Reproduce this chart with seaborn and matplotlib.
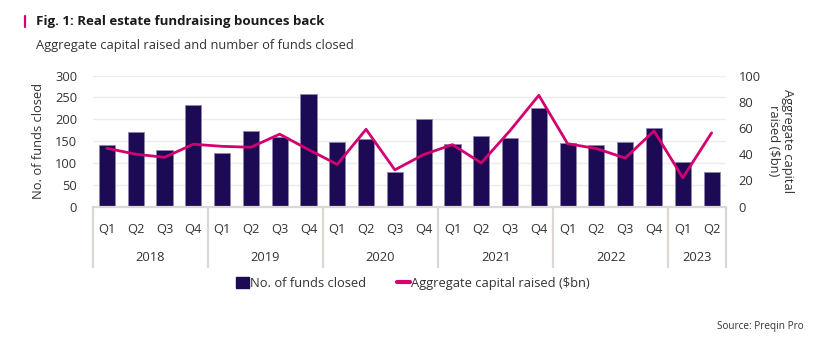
import numpy as np
import pandas as pd
import matplotlib
matplotlib.use("Agg")
import matplotlib.pyplot as plt
import seaborn as sns
from matplotlib.patches import Patch
from matplotlib.lines import Line2D
from matplotlib.transforms import blended_transform_factory

# ---- data ----
years = ["2018", "2019", "2020", "2021", "2022", "2023"]
quarters_per_year = [4, 4, 4, 4, 4, 2]
quarter_labels = ["Q1", "Q2", "Q3", "Q4"] * 5 + ["Q1", "Q2"]
funds_closed = [142, 171, 129, 233, 122, 173, 160, 259, 148, 154, 79, 200,
                143, 161, 158, 227, 146, 142, 148, 179, 103, 80]
capital_raised = [44.5, 40, 37.6, 47.6, 46, 45.3, 55.3, 43.5, 32.2, 59, 28, 39.7,
                  47.3, 33.3, 58, 85, 48, 44.3, 37, 57.8, 22, 56.3]

period = [f"{y} {q}" for y, n in zip(years, quarters_per_year) for q in ["Q1", "Q2", "Q3", "Q4"][:n]]
df = pd.DataFrame({"period": period, "quarter": quarter_labels,
                   "funds": funds_closed, "capital": capital_raised})
df["pos"] = np.arange(len(df))

BAR = "#1c0a54"
LINE = "#d4006f"
TXT = "#333333"
AXC = "#dcd7d2"
FS = 9.3

sns.set_style("white")
plt.rcParams["font.family"] = ["Open Sans", "DejaVu Sans"]

fig = plt.figure(figsize=(8.26, 3.37), dpi=100)
W, H = 826, 337
x0, x1, ytop, ybot = 92.5, 726, 75.7, 206.5
ax = fig.add_axes([x0 / W, 1 - ybot / H, (x1 - x0) / W, (ybot - ytop) / H])

sns.barplot(data=df, x="period", y="funds", order=period, color=BAR,
            width=0.56, edgecolor="#8f86a8", linewidth=0.6, saturation=1, ax=ax)
ax.set_xlim(-0.5, len(df) - 0.5)
ax.set_ylim(0, 300)
ax.set_yticks(range(0, 301, 50))
ax.yaxis.grid(True, color="#ececec", linewidth=1)
ax.set_axisbelow(True)
for s in ["top", "right", "left"]:
    ax.spines[s].set_visible(False)
ax.spines["bottom"].set_color(AXC)
ax.spines["bottom"].set_linewidth(1.6)
ax.set_xticks(range(len(df)))
ax.set_xticklabels(df["quarter"])
ax.tick_params(axis="x", length=0, pad=12, labelsize=FS, labelcolor=TXT)
ax.tick_params(axis="y", length=0, pad=11, labelsize=FS, labelcolor=TXT)
ax.set_xlabel("")
ax.set_ylabel("No. of funds closed", fontsize=FS, color=TXT, labelpad=7)

ax2 = ax.twinx()
sns.lineplot(data=df, x="pos", y="capital", color=LINE, linewidth=2, ax=ax2)
ax2.set_ylim(0, 100)
ax2.set_yticks(range(0, 101, 20))
ax2.set_xlim(-0.5, len(df) - 0.5)
for s in ["top", "right", "left", "bottom"]:
    ax2.spines[s].set_visible(False)
ax2.tick_params(axis="y", length=0, pad=9, labelsize=FS, labelcolor=TXT)
ax2.set_ylabel("Aggregate capital\nraised ($bn)", fontsize=FS, color=TXT,
               rotation=270, labelpad=24, linespacing=1.05)
ax2.grid(False)

# category separators and year labels
trans = blended_transform_factory(ax.transData, ax.transAxes)
bottom_frac = -(268 - ybot) / (ybot - ytop)
edges = np.concatenate([[0], np.cumsum(quarters_per_year)]) - 0.5
for e in edges:
    ax.plot([e, e], [0, bottom_frac], transform=trans, color=AXC, lw=1.6,
            clip_on=False, solid_capstyle="butt")
year_y = -(257.7 - ybot) / (ybot - ytop)
for i, y in enumerate(years):
    ax.text((edges[i] + edges[i + 1]) / 2, year_y, y, transform=trans,
            ha="center", va="center", fontsize=FS, color=TXT)

# legend
handles = [Patch(facecolor=BAR, edgecolor=BAR),
           Line2D([0], [0], color=LINE, lw=3)]
fig.legend(handles, ["No. of funds closed", "Aggregate capital raised ($bn)"],
           loc="center", bbox_to_anchor=(0.5, 1 - 283.5 / H), ncol=2, frameon=False,
           fontsize=FS, handlelength=1.0, handleheight=1.0, handletextpad=0.1,
           columnspacing=2.4, labelcolor=TXT)

# title, subtitle, source
fig.text(36 / W, 1 - 21 / H, "Fig. 1: Real estate fundraising bounces back",
         fontsize=9.5, fontweight="bold", color="#1a1a1a", va="center", ha="left")
fig.text(36 / W, 1 - 46 / H, "Aggregate capital raised and number of funds closed",
         fontsize=9.3, color=TXT, va="center", ha="left")
fig.add_artist(Line2D([25 / W, 25 / W], [1 - 16 / H, 1 - 27 / H], color=LINE, lw=1.6))
fig.text(804 / W, 1 - 327 / H, "Source: Preqin Pro", fontsize=7.2, color=TXT,
         ha="right", va="center")

fig.savefig("out.png", dpi=100)
